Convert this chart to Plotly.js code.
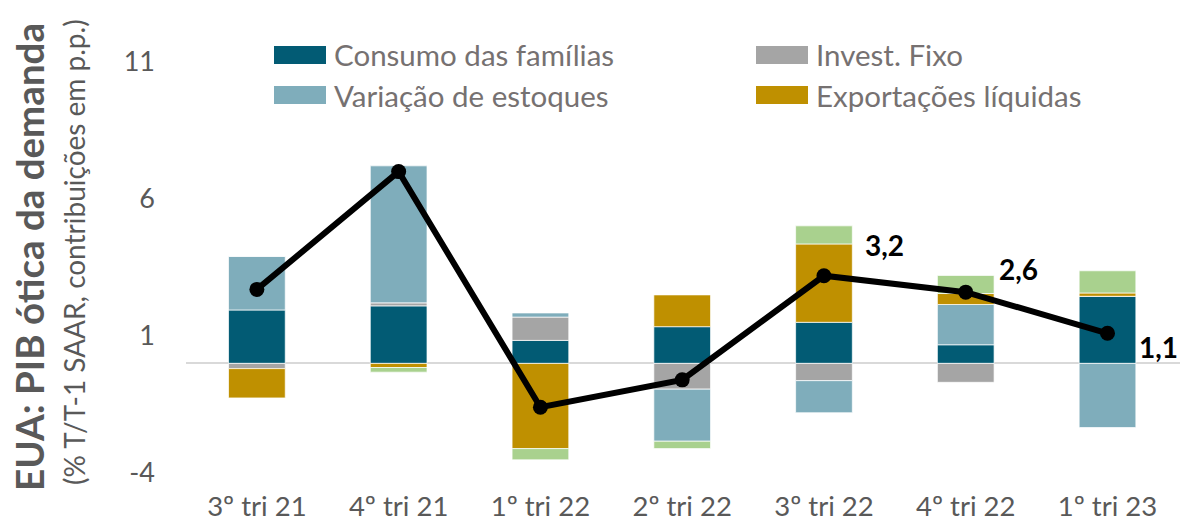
<!DOCTYPE html>
<html>
<head>
<meta charset="utf-8">
<script src="https://cdn.plot.ly/plotly-3.0.1.min.js"></script>
<style>html,body{margin:0;padding:0;background:#fff;}#chart{width:1183px;height:525px;}</style>
</head>
<body>
<div id="chart"></div>
<script>
const categories = ["3º tri 21", "4º tri 21", "1º tri 22", "2º tri 22", "3º tri 22", "4º tri 22", "1º tri 23"];
const consumo    = [1.95, 2.10, 0.84, 1.34, 1.50, 0.68, 2.45];
const investFixo = [-0.19, 0.11, 0.85, -0.94, -0.63, -0.69, 0.00];
const estoques   = [1.96, 5.00, 0.15, -1.90, -1.17, 1.47, -2.34];
const exportacoes= [-1.07, -0.15, -3.11, 1.16, 2.86, 0.40, 0.12];
const governo    = [0.00, -0.17, -0.41, -0.27, 0.66, 0.66, 0.81];
const pibTotal   = [2.7, 7.0, -1.6, -0.6, 3.2, 2.6, 1.1];
const labelled   = ["3,2", "2,6", "1,1"];
const labelledIdx= [4, 5, 6];
const yTicks     = [-4, 1, 6, 11];
const seriesNames  = ["Consumo das famílias", "Invest. Fixo", "Variação de estoques", "Exportações líquidas", "Gastos do governo"];
const seriesColors = ["#025b74", "#a5a5a5", "#7fadbb", "#bf9000", "#a9d18e"];

const W = 1183, H = 525;
const M = {l: 186, r: 3, t: 62, b: 52};
const PW = W - M.l - M.r, PH = H - M.t - M.b;
const px2x = p => (p - M.l) / PW;
const px2y = p => (H - M.b - p) / PH;

const font = "Lato, 'Open Sans', sans-serif";
const barLine = {color: "rgba(255,255,255,0.7)", width: 1};
const seriesValues = [consumo, investFixo, estoques, exportacoes, governo];
const traces = seriesValues.map((vals, i) => ({
  type: "bar", name: seriesNames[i], x: categories, y: vals, showlegend: false,
  marker: {color: seriesColors[i], line: barLine}, hoverinfo: "name+y"
}));
traces.push({type: "scatter", mode: "lines+markers", name: "PIB", x: categories, y: pibTotal,
   showlegend: false, line: {color: "#000", width: 6}, marker: {color: "#000", size: 15}});

const shifts = [[61, 31], [53, 23], [51, -14]];
const annotations = labelledIdx.map((idx, k) => ({
  x: categories[idx], y: pibTotal[idx], xref: "x", yref: "y", text: labelled[k],
  showarrow: false, xshift: shifts[k][0], yshift: shifts[k][1],
  font: {family: font, size: 28, color: "#000", weight: 700}
}));
annotations.push({xref: "paper", yref: "paper", x: 0, y: px2y(257), xshift: -157, xanchor: "center", yanchor: "middle",
  textangle: -90, showarrow: false, text: "<b>EUA: PIB ótica da demanda</b>",
  font: {family: font, size: 38.5, color: "#595959"}});
annotations.push({xref: "paper", yref: "paper", x: 0, y: px2y(252), xshift: -112, xanchor: "center", yanchor: "middle",
  textangle: -90, showarrow: false, text: "(% T/T-1 SAAR, contribuições em p.p.)",
  font: {family: font, size: 28, color: "#595959"}});

// Legend (2 columns x 2 rows, wide swatches as in the original)
const legendItems = [0, 1, 2, 3];
const legendCols = [274, 756], legendRows = [55, 95];
const shapes = [];
legendItems.forEach((si, k) => {
  const cx = legendCols[k % 2], cy = legendRows[Math.floor(k / 2)];
  shapes.push({type: "rect", xref: "paper", yref: "paper", layer: "above",
    x0: px2x(cx), x1: px2x(cx + 52), y0: px2y(cy - 9), y1: px2y(cy + 9),
    fillcolor: seriesColors[si], line: {width: 0}});
  annotations.push({xref: "paper", yref: "paper", x: px2x(cx + 58), y: px2y(cy), xanchor: "left", yanchor: "middle",
    showarrow: false, text: seriesNames[si], font: {family: font, size: 29.5, color: "#767171"}});
});

const layout = {
  width: W, height: H,
  margin: M,
  barmode: "relative", bargap: 0.6,
  paper_bgcolor: "#fff", plot_bgcolor: "#fff",
  font: {family: font, color: "#595959"},
  xaxis: {type: "category", showgrid: false, showline: false, zeroline: false, ticks: "",
          tickfont: {family: font, size: 27.5, color: "#595959"}, ticklabelstandoff: 14},
  yaxis: {range: [-4, 11], tickvals: yTicks, ticktext: yTicks.map(String), showgrid: false,
          zeroline: true, zerolinecolor: "#d9d9d9", zerolinewidth: 2, showline: false, ticks: "",
          tickfont: {family: font, size: 27, color: "#595959"}, ticklabelstandoff: 30},
  annotations: annotations,
  shapes: shapes,
  showlegend: false
};
Plotly.newPlot("chart", traces, layout, {displayModeBar: false, staticPlot: true});
</script>
</body>
</html>
